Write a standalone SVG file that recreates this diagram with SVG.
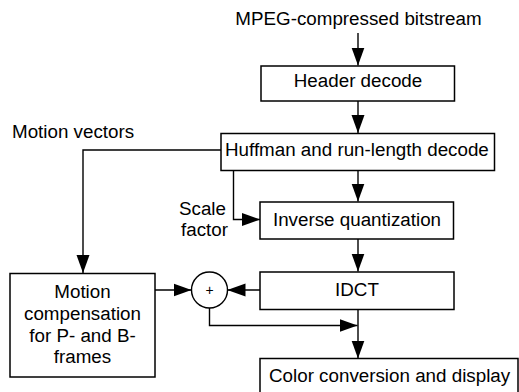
<svg xmlns="http://www.w3.org/2000/svg" width="519" height="392" viewBox="0 0 519 392">
<defs>
<marker id="ah" markerWidth="18" markerHeight="14" refX="18" refY="7" orient="auto" markerUnits="userSpaceOnUse">
<path d="M0,0.5 L18,7 L0,13.5 Z" fill="#000"/>
</marker>
<style>
.box{fill:#fff;stroke:#000;stroke-width:1.5}
.t{font-family:"Liberation Sans",Arial,sans-serif;font-size:18.8px;fill:#000}
.m{text-anchor:middle}
.c{fill:none;stroke:#000;stroke-width:1.4}
</style>
</defs>
<rect width="519" height="392" fill="#fff"/>
<g id="connectors">
<line class="c" x1="358" y1="33" x2="358" y2="65.5" marker-end="url(#ah)"/>
<line class="c" x1="358" y1="101" x2="358" y2="133" marker-end="url(#ah)"/>
<line class="c" x1="358" y1="171" x2="358" y2="201.5" marker-end="url(#ah)"/>
<line class="c" x1="358" y1="239" x2="358" y2="271.5" marker-end="url(#ah)"/>
<polyline class="c" points="221,150 83,150 83,273" marker-end="url(#ah)"/>
<polyline class="c" points="233.5,171 233.5,219.5 260,219.5" marker-end="url(#ah)"/>
<line class="c" x1="155" y1="290" x2="191.5" y2="290" marker-end="url(#ah)"/>
<line class="c" x1="260" y1="290" x2="227.5" y2="290" marker-end="url(#ah)"/>
<polyline class="c" points="209.5,307.5 209.5,325.5 357.5,325.5" marker-end="url(#ah)"/>
<line class="c" x1="358" y1="309.5" x2="358" y2="358.5" marker-end="url(#ah)"/>
</g>
<g id="label-input"><text class="t m" x="358.5" y="25">MPEG-compressed bitstream</text></g>
<g id="label-mv"><text class="t" x="12" y="138">Motion vectors</text></g>
<g id="label-scale"><text class="t" x="179" y="215">Scale</text><text class="t" x="181" y="236">factor</text></g>
<g id="header"><rect class="box" x="261" y="66" width="193.5" height="35"/><text class="t m" x="358" y="87">Header decode</text></g>
<g id="huffman"><rect class="box" x="221" y="133.5" width="273.5" height="37"/><text class="t" x="225" y="156">Huffman and run-length decode</text></g>
<g id="iq"><rect class="box" x="260" y="202" width="193.5" height="37"/><text class="t m" x="357" y="226">Inverse quantization</text></g>
<g id="idct"><rect class="box" x="260" y="272" width="194" height="37.5"/><text class="t m" x="357" y="296">IDCT</text></g>
<g id="mc"><rect class="box" x="10" y="273.5" width="145" height="103.5"/>
<text class="t m" x="82.5" y="298">Motion</text>
<text class="t m" x="82.5" y="320">compensation</text>
<text class="t m" x="82.5" y="342">for P- and B-</text>
<text class="t m" x="82.5" y="363">frames</text></g>
<g id="sum"><circle cx="209.5" cy="290" r="18" fill="#fff" stroke="#000" stroke-width="1.4"/><text x="209.5" y="295" text-anchor="middle" font-family="Liberation Sans,Arial,sans-serif" font-size="14" fill="#000">+</text></g>
<g id="color"><rect class="box" x="260" y="358.5" width="258" height="40"/><text class="t" x="269" y="382">Color conversion and display</text></g>
</svg>
